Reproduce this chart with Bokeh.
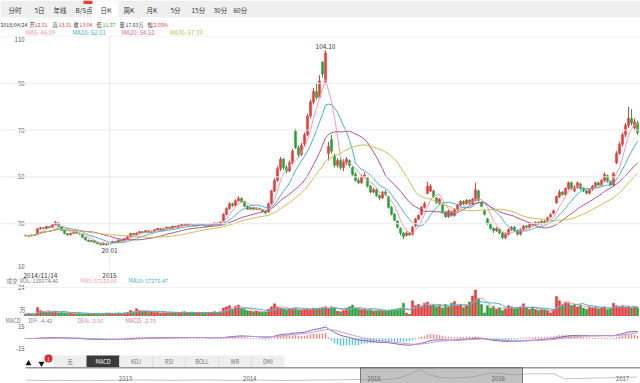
import numpy as np
import pandas as pd
from bokeh.plotting import figure
from bokeh.layouts import column
from bokeh.models import Range1d, Span, Label, ColumnDataSource
from bokeh.core.properties import value
from bokeh.embed import file_html
from bokeh.resources import INLINE

FONT = "Noto Sans CJK SC"

# ---------------- data ----------------
opens = [24.8, 25.0, 24.7, 25.2, 25.3, 27.8, 28.3, 28.0, 28.8, 28.4,
         29.6, 30.3, 28.8, 27.2, 25.8, 25.2, 25.8, 26.5, 26.0, 25.6,
         24.2, 23.0, 22.4, 22.8, 22.0, 21.4, 21.0, 21.4, 21.0, 21.8,
         22.4, 22.2, 23.0, 22.6, 23.6, 24.4, 25.8, 25.3, 26.0, 26.6,
         26.2, 27.0, 26.2, 26.8, 27.4, 27.9, 27.1, 27.8, 28.5, 28.0,
         28.9, 28.5, 29.2, 29.8, 29.2, 30.0, 29.5, 29.0, 29.4, 29.9,
         29.4, 28.9, 29.3, 29.9, 30.3, 29.8, 31.0, 34.0, 36.5, 38.5,
         37.8, 39.8, 40.8, 39.5, 37.5, 36.2, 36.8, 36.2, 36.6, 36.0,
         35.2, 35.0, 38.5, 44.0, 48.5, 53.5, 57.5, 54.0, 52.5, 56.0,
         69.5, 62.5, 59.5, 64.0, 68.0, 76.0, 82.0, 86.5, 84.0, 99.0,
         90.0, 60.0, 66.0, 59.0, 55.0, 57.0, 54.0, 56.0, 57.0, 54.0,
         51.0, 48.5, 47.5, 50.0, 49.5, 46.0, 43.5, 44.5, 42.0, 41.0,
         43.5, 41.5, 37.0, 34.0, 31.0, 28.0, 26.0, 25.0, 26.0, 25.5,
         29.0, 32.0, 34.0, 37.0, 43.0, 44.0, 44.0, 41.0, 38.5, 38.0,
         35.0, 33.0, 35.0, 33.5, 36.0, 38.0, 39.5, 38.5, 40.0, 38.5,
         40.0, 44.0, 39.0, 35.5, 32.0, 30.0, 28.0, 27.0, 27.5, 26.0,
         24.0, 25.5, 27.5, 28.5, 27.0, 25.5, 27.5, 29.0, 28.5, 30.0,
         29.5, 30.5, 30.0, 31.0, 31.0, 33.0, 34.5, 39.0, 41.5, 43.5,
         42.5, 45.0, 47.5, 44.0, 45.5, 47.0, 45.0, 44.0, 43.0, 44.5,
         46.0, 47.5, 46.5, 48.5, 50.5, 48.0, 46.5, 56.0, 60.0, 64.0,
         68.0, 72.0, 75.0, 71.0, 73.0]
closes = [25.0, 24.7, 25.2, 25.0, 27.8, 28.3, 28.0, 28.8, 28.4, 29.6,
          30.6, 28.8, 27.2, 25.8, 25.2, 25.8, 26.5, 26.0, 25.6, 24.2,
          23.0, 22.4, 22.8, 22.0, 21.4, 21.0, 21.6, 21.0, 21.8, 22.4,
          22.2, 23.0, 22.6, 23.6, 24.4, 25.8, 25.3, 26.0, 26.6, 26.2,
          27.0, 26.2, 26.8, 27.4, 27.9, 27.1, 27.8, 28.5, 28.0, 28.9,
          28.5, 29.2, 29.8, 29.2, 30.0, 29.5, 29.0, 29.4, 29.9, 29.4,
          28.9, 29.3, 29.9, 30.3, 29.8, 30.6, 34.0, 36.5, 38.5, 37.8,
          39.8, 40.8, 39.5, 37.5, 36.2, 36.8, 36.2, 36.6, 36.0, 35.2,
          34.6, 38.5, 44.0, 48.5, 53.5, 57.5, 54.0, 52.5, 56.0, 61.0,
          62.5, 59.5, 63.5, 68.0, 76.0, 82.0, 86.5, 84.0, 91.0, 94.0,
          103.0, 63.0, 61.0, 55.0, 57.0, 54.0, 56.5, 57.5, 55.0, 51.0,
          48.5, 47.5, 50.0, 50.8, 46.0, 43.5, 44.5, 42.0, 41.0, 43.5,
          42.5, 37.0, 34.0, 31.5, 28.5, 26.0, 24.5, 26.0, 25.2, 28.5,
          32.0, 33.5, 37.0, 38.5, 46.0, 46.0, 41.5, 39.0, 40.5, 35.0,
          33.0, 35.5, 33.5, 36.0, 38.0, 39.5, 38.5, 40.0, 38.5, 40.5,
          44.5, 40.0, 37.5, 34.0, 30.0, 28.0, 27.0, 28.0, 26.0, 24.0,
          25.5, 27.5, 28.5, 27.0, 25.5, 27.5, 29.0, 28.5, 30.0, 29.5,
          30.5, 30.0, 31.0, 30.5, 32.5, 33.8, 35.5, 41.5, 43.5, 42.5,
          45.0, 47.5, 45.0, 45.5, 47.5, 45.0, 44.0, 43.0, 44.5, 46.0,
          47.5, 46.5, 48.5, 51.0, 48.0, 46.5, 51.5, 60.0, 64.0, 68.0,
          72.0, 75.0, 73.0, 73.5, 69.0]
highs = [25.3, 25.2, 25.4, 25.5, 28.1, 28.7, 28.6, 29.1, 29.0, 29.9,
         31.2, 30.6, 29.0, 27.4, 26.0, 26.1, 26.8, 26.7, 26.2, 25.7,
         24.4, 23.2, 23.1, 22.9, 22.2, 21.6, 21.9, 21.6, 22.0, 22.7,
         22.6, 23.3, 23.2, 23.8, 24.7, 26.1, 26.0, 26.3, 26.9, 26.8,
         27.3, 27.2, 27.0, 27.7, 28.2, 28.0, 28.0, 28.8, 28.7, 29.2,
         29.1, 29.5, 30.1, 30.0, 30.3, 30.2, 29.7, 29.7, 30.2, 30.0,
         29.6, 29.6, 30.1, 30.6, 30.5, 30.9, 34.4, 37.0, 39.2, 39.0,
         40.4, 41.8, 41.2, 39.8, 37.8, 37.2, 37.0, 37.0, 36.8, 36.2,
         35.5, 39.0, 44.5, 49.5, 54.5, 58.5, 58.0, 55.0, 57.0, 62.0,
         70.5, 63.5, 64.5, 69.0, 77.0, 83.0, 88.0, 90.0, 93.5, 99.5,
         104.1, 65.0, 68.0, 60.0, 58.0, 58.0, 57.5, 58.5, 57.5, 54.5,
         52.0, 49.5, 51.0, 52.0, 50.0, 46.5, 45.5, 45.0, 42.5, 44.0,
         44.5, 42.0, 37.5, 34.5, 31.5, 28.5, 26.5, 26.8, 26.5, 29.0,
         32.5, 34.0, 37.5, 39.5, 48.0, 47.0, 44.5, 41.5, 41.0, 38.5,
         35.5, 36.0, 35.5, 36.5, 38.5, 40.0, 40.0, 40.5, 40.5, 41.0,
         47.5, 44.5, 39.5, 36.0, 32.5, 30.5, 28.5, 28.5, 28.0, 26.5,
         26.0, 28.0, 29.0, 29.0, 27.5, 28.0, 29.5, 29.5, 30.5, 30.5,
         31.0, 31.0, 31.5, 31.5, 33.0, 34.5, 36.0, 42.0, 44.5, 44.0,
         45.5, 48.0, 48.0, 46.5, 48.0, 47.5, 45.5, 44.5, 45.0, 46.5,
         48.0, 48.0, 49.0, 52.0, 51.0, 48.5, 52.0, 61.0, 65.0, 69.0,
         73.0, 80.0, 79.0, 75.0, 74.0]
lows = [24.6, 24.5, 24.6, 24.8, 25.2, 27.5, 27.7, 27.8, 28.1, 28.2,
        29.4, 28.5, 27.0, 25.5, 24.9, 25.0, 25.6, 25.8, 25.3, 24.0,
        22.8, 22.1, 22.2, 21.8, 21.2, 20.7, 20.8, 20.7, 20.01, 21.6,
        21.9, 22.0, 22.4, 22.5, 23.4, 24.3, 25.0, 25.1, 25.8, 26.0,
        26.0, 26.0, 26.0, 26.6, 27.2, 26.9, 27.0, 27.6, 27.8, 27.9,
        28.3, 28.3, 29.0, 29.0, 29.0, 29.3, 28.8, 28.8, 29.2, 29.2,
        28.7, 28.7, 29.1, 29.7, 29.6, 29.6, 30.8, 33.6, 36.0, 37.2,
        37.5, 39.4, 39.0, 37.2, 35.9, 36.0, 35.9, 36.0, 35.8, 34.9,
        34.0, 34.8, 38.2, 43.5, 48.0, 52.5, 53.0, 51.5, 52.0, 55.5,
        62.0, 58.5, 59.0, 63.0, 67.5, 75.0, 81.0, 83.0, 83.5, 92.5,
        89.5, 57.0, 60.0, 54.0, 54.0, 53.0, 52.5, 55.0, 54.0, 50.5,
        48.0, 47.0, 47.0, 49.5, 45.5, 43.0, 43.0, 41.5, 40.0, 40.5,
        42.0, 36.5, 33.5, 31.0, 28.0, 25.0, 23.5, 24.5, 24.8, 25.0,
        28.5, 31.5, 33.5, 36.5, 42.5, 43.5, 41.0, 38.5, 38.0, 34.5,
        32.5, 32.5, 33.0, 33.0, 35.5, 37.5, 38.0, 38.0, 38.0, 38.0,
        39.5, 39.5, 37.0, 33.5, 29.5, 27.5, 26.0, 26.5, 25.5, 23.5,
        23.5, 25.0, 27.0, 26.5, 25.0, 25.0, 27.0, 28.0, 28.0, 29.0,
        29.0, 29.5, 29.5, 30.0, 30.5, 32.5, 34.0, 38.5, 41.0, 42.0,
        42.0, 44.5, 44.5, 43.5, 45.0, 44.5, 43.5, 42.5, 42.5, 44.0,
        45.5, 46.0, 46.0, 48.0, 47.5, 46.0, 46.0, 55.5, 59.5, 63.0,
        67.0, 71.0, 72.0, 70.0, 68.0]
volumes = [2.0, 2.5, 2.0, 2.0, 7.5, 5.0, 4.0, 3.5, 4.0, 3.5,
           4.5, 3.0, 3.5, 3.0, 2.5, 3.0, 2.5, 2.5, 3.0, 2.0,
           2.5, 2.5, 2.0, 2.5, 2.0, 2.0, 2.5, 3.0, 3.0, 2.5,
           2.5, 3.0, 2.5, 3.0, 3.5, 5.0, 4.0, 6.5, 5.0, 4.0,
           4.5, 3.5, 4.0, 3.5, 4.0, 3.0, 3.5, 3.0, 3.5, 3.0,
           3.5, 3.0, 3.5, 4.0, 3.0, 3.5, 3.0, 3.0, 3.5, 3.0,
           3.0, 3.5, 3.5, 4.0, 3.0, 4.0, 7.0, 8.0, 9.0, 6.0,
           8.5, 9.5, 7.0, 6.0, 5.0, 4.5, 4.0, 4.5, 4.0, 3.5,
           4.0, 6.0, 8.0, 10.5, 8.0, 7.0, 6.5, 5.5, 6.0, 6.5,
           7.0, 5.5, 5.5, 6.0, 6.5, 6.0, 7.0, 6.5, 7.0, 7.5,
           8.0, 6.5, 8.0, 7.0, 4.5, 4.0, 5.0, 7.0, 8.0, 9.5,
           7.0, 6.0, 5.5, 6.0, 5.0, 5.5, 4.5, 5.0, 5.5, 5.0,
           4.5, 5.0, 5.5, 6.0, 6.5, 7.0, 11.0, 3.0, 2.0, 13.0,
           9.0, 10.0, 8.5, 11.0, 12.0, 9.0, 10.0, 8.0, 9.0, 7.0,
           10.0, 8.0, 11.0, 12.5, 9.0, 10.0, 7.5, 9.0, 12.0, 17.0,
           22.0, 15.0, 10.0, 3.0, 9.0, 7.0, 8.5, 6.0, 7.0, 5.0,
           6.5, 9.0, 8.0, 6.5, 7.0, 8.0, 10.5, 7.0, 6.0, 7.5,
           6.0, 5.0, 6.0, 5.5, 5.0, 3.0, 6.0, 16.5, 13.0, 10.0,
           12.0, 11.0, 9.0, 10.0, 8.0, 9.5, 7.0, 6.0, 8.0, 7.5,
           8.0, 6.5, 7.0, 8.0, 6.0, 6.5, 11.0, 9.0, 8.0, 9.0,
           7.5, 8.0, 7.0, 8.0, 7.5]

price_ticks = [110, 90, 70, 50, 30, 10]
ma_periods = [5, 10, 20, 30]
date_labels = ["2014/11/14", "2015"]
date_label_idx = [0, 28]
peak_label, low_label = "104.10", "20.01"

tabs = ["分时", "5日", "年线", "B/S点", "日K", "周K", "月K", "5分", "15分", "30分", "60分"]
indicator_buttons = ["无", "MACD", "KDJ", "RSI", "BOLL", "WR", "DMI"]

nav_values = [20, 19, 18, 19, 18, 17, 17, 18, 19, 20, 21,
              22, 21, 20, 19, 20, 21, 22, 21, 20, 19, 20, 21,
              20, 19, 18, 19, 20, 21, 22, 23, 24, 25,
              24, 22, 26, 35, 60, 95, 55, 40,
              35, 38, 42, 55, 70, 65, 55, 62, 65, 64, 63,
              30, 32, 33, 35, 36, 38, 40, 42]
nav_years_labels = [2013, 2014, 2015, 2016, 2017]

# ---------------- derived indicators ----------------
n = len(closes)
idx = np.arange(n)
cs = pd.Series(closes)
mas = {m: cs.rolling(m, min_periods=1).mean().values for m in ma_periods}
vs = pd.Series(volumes)
vma5 = vs.rolling(5, min_periods=1).mean().values
vma10 = vs.rolling(10, min_periods=1).mean().values
ema12 = cs.ewm(span=12, adjust=False).mean()
ema26 = cs.ewm(span=26, adjust=False).mean()
dif = ema12 - ema26
dea = dif.ewm(span=9, adjust=False).mean()
hist = 2 * (dif - dea)

RED = "#e23d3d"
GREEN = "#2f9e3a"
up = [c >= o for o, c in zip(opens, closes)]
ccol = [RED if u else GREEN for u in up]

src = ColumnDataSource(dict(x=idx, o=opens, c=closes, h=highs, l=lows,
                            top=[max(a, b) for a, b in zip(opens, closes)],
                            bot=[min(a, b) for a, b in zip(opens, closes)],
                            col=ccol, vol=volumes))

MA_COL = {5: "#f09aae", 10: "#45b1c6", 20: "#b0508c", 30: "#c8bd52"}
W = 640
XR = Range1d(-25 / 3, 205)


def base_fig(h, x_range, y_range):
    p = figure(width=W, height=h, x_range=x_range, y_range=y_range,
               output_backend="svg", toolbar_location=None,
               x_axis_type=None, y_axis_type=None, min_border=0,
               outline_line_color=None, background_fill_color="white",
               border_fill_color="white")
    return p


def txt(p, x, y, s, color="#555555", size="6px", align="left", baseline="middle"):
    p.text(x=[x], y=[y], text=[s], text_color=color, text_font=value(FONT),
           text_font_size=value(size), text_align=align, text_baseline=baseline)


# ---------------- header ----------------
hdr = base_fig(36, Range1d(0, W), Range1d(36, 0))
hdr.quad(left=[0], right=[W], top=[0], bottom=[17], fill_color="#efefef", line_color=None)
hdr.quad(left=[91], right=[118], top=[1], bottom=[17], fill_color="white", line_color=None)
hdr.quad(left=[83], right=[92], top=[0], bottom=[3.5], fill_color="#e8412f", line_color=None)
tab_x = [8, 34, 53, 75, 100, 123, 146, 170, 191, 213, 233]
for tx, t in zip(tab_x, tabs):
    txt(hdr, tx, 9, t, color="#333333", size="6.5px")
info = [(0, "2018/04/24", "#333333"), (29, "开", "#333333"), (34, "12.51", RED),
        (52, "高", "#333333"), (58, "13.31", RED), (73, "收", "#333333"), (79, "13.04", RED),
        (96, "低", "#333333"), (102, "11.57", GREEN), (119, "量", "#333333"),
        (125, "17.63万", "#333333"), (147, "幅", "#333333"), (153, "2.09%", RED)]
for ix, s, col in info:
    txt(hdr, ix, 24, s, color=col, size="5.2px")
ma_txt = [(25, "MA5: 46.09", MA_COL[5]), (72, "MA10: 52.01", MA_COL[10]),
          (121, "MA20: 54.52", "#d46aa4"), (169, "MA30: 57.33", MA_COL[30])]
for ix, s, col in ma_txt:
    txt(hdr, ix, 32, s, color=col, size="6px")

# ---------------- main price chart ----------------
pm = base_fig(234, XR, Range1d(10, 110))
for t in price_ticks:
    pm.add_layout(Span(location=t, dimension="width", line_color="#ebebeb", line_width=1))
pm.add_layout(Span(location=date_label_idx[1], dimension="height", line_color="#ebebeb", line_width=1))
pm.segment(x0="x", x1="x", y0="l", y1="h", color="col", line_width=1, source=src)
pm.vbar(x="x", top="top", bottom="bot", width=0.72, fill_color="col", line_color="col",
        line_width=0.5, source=src)
for m in ma_periods:
    pm.line(idx, mas[m], line_color=MA_COL[m], line_width=1)
for t in price_ticks:
    if t == max(price_ticks):
        txt(pm, -0.3, t, str(t), color="#555555", size="6px", align="right", baseline="top")
    elif t == min(price_ticks):
        txt(pm, -0.3, t + 1.9, str(t), color="#555555", size="6px", align="right", baseline="middle")
    else:
        txt(pm, -0.3, t, str(t), color="#555555", size="6px", align="right", baseline="middle")
ipk = int(np.argmax(highs))
ilo = int(np.argmin(lows))
txt(pm, ipk, highs[ipk] + 0.6, peak_label, color="#333333", size="6.5px", align="center", baseline="bottom")
txt(pm, ilo, lows[ilo] - 0.6, low_label, color="#333333", size="6.5px", align="center", baseline="top")

# ---------------- volume ----------------
pv = base_fig(46, XR, Range1d(0, 46 / 1.208))
pv.add_layout(Span(location=24, dimension="width", line_color="#f0f0f0", line_width=1))
pv.vbar(x="x", top="vol", bottom=0, width=0.72, fill_color="col", line_color="col",
        line_width=0.5, source=src)
pv.line(idx, vma5, line_color=MA_COL[5], line_width=1)
pv.line(idx, vma10, line_color=MA_COL[10], line_width=1)
txt(pv, -0.3, 24, "24", size="6px", align="right")
pv.add_layout(Label(x=25, y=7, x_units="screen", y_units="screen", text="万", text_font=FONT,
                    text_font_size="6px", text_color="#555555", text_align="right", text_baseline="middle"))
for s, i in zip(date_labels, date_label_idx):
    pv.add_layout(Label(x=i, y=41.5, x_units="data", y_units="screen", text=s, text_font=FONT,
                        text_font_size="6.5px", text_color="#333333",
                        text_align="left" if i == 0 else "center", text_baseline="middle",
                        x_offset=-2 if i == 0 else 0))
for lx, s, col in [(6, "成交", "#777777"), (19, "VOL: 116074.46", "#777777"),
                   (80, "MA5: 87123.06", MA_COL[5]), (128, "MA10: 57276.47", MA_COL[10])]:
    pv.add_layout(Label(x=lx, y=36, x_units="screen", y_units="screen", text=s, text_font=FONT,
                        text_font_size="5.5px", text_color=col, text_baseline="middle"))

# ---------------- MACD ----------------
pc = base_fig(36, XR, Range1d(-17.5, 27.5))
hcol = ["#e88a8a" if v >= 0 else "#6cc3d3" for v in hist]
pc.vbar(x=idx, top=hist.values, bottom=0, width=0.3, fill_color=hcol, line_color=hcol, line_width=0.6)
pc.line(idx, dif.values, line_color="#7a62b3", line_width=1)
pc.line(idx, dea.values, line_color="#c79ad6", line_width=1)
txt(pc, -0.3, 15, "15", size="6px", align="right")
txt(pc, -0.3, -12.5, "-15", size="6px", align="right")
for lx, s, col in [(5, "MACD", "#777777"), (28, "DIF: -4.42", "#8c76b8"),
                   (77, "DEA: -3.06", "#d08ab4"), (125, "MACD: -2.70", "#c07aa8")]:
    pc.add_layout(Label(x=lx, y=32, x_units="screen", y_units="screen", text=s, text_font=FONT,
                        text_font_size="5.5px", text_color=col, text_baseline="middle"))

# ---------------- indicator toolbar ----------------
pt = base_fig(15, Range1d(0, W), Range1d(15, 0))
bx0, bw = 53, 33
pt.quad(left=[bx0], right=[bx0 + bw * len(indicator_buttons)], top=[3], bottom=[15],
        fill_color="#eeeeee", line_color=None)
pt.quad(left=[bx0 + bw], right=[bx0 + 2 * bw], top=[3], bottom=[15], fill_color="#3b3b3b", line_color=None)
for k, b in enumerate(indicator_buttons):
    if k > 1:
        pt.segment(x0=[bx0 + k * bw], x1=[bx0 + k * bw], y0=[4], y1=[14], line_color="#dcdcdc")
    txt(pt, bx0 + k * bw + bw / 2, 9, b, color="white" if k == 1 else "#777777",
        size="5.5px", align="center")
pt.scatter(x=[28], y=[11], marker="triangle", size=6, fill_color="#111111", line_color=None)
pt.scatter(x=[41], y=[11], marker="inverted_triangle", size=6, fill_color="#111111", line_color=None)
pt.scatter(x=[48], y=[6], marker="circle", size=8, fill_color="#e02a2a", line_color=None)
txt(pt, 48, 6, "1", color="white", size="5px", align="center")

# ---------------- navigator ----------------
def px2yr(px):
    return 2013 + (px - 125) / 124.25

nav_years = [2012.2 + k / 12 for k in range(len(nav_values))]
pn = base_fig(16, Range1d(px2yr(0), px2yr(W)), Range1d(-2.3, 106.8))
pn.line(nav_years, nav_values, line_color="#c4c4c4", line_width=1)
pn.quad(left=[px2yr(360)], right=[px2yr(522)], top=[106.8], bottom=[-2.3],
        fill_color="#8f8f8f", fill_alpha=0.55, line_color="#777777", line_width=1)
pn.segment(x0=[px2yr(25)], x1=[px2yr(W)], y0=[106.0], y1=[106.0], line_color="#333333", line_width=1.5)
for yr in nav_years_labels:
    txt(pn, yr, 35, str(yr), color="#666666", size="6px", align="center")

layout = column(hdr, pm, pv, pc, pt, pn, spacing=0)
open("out.html", "w").write(file_html(layout, INLINE))
